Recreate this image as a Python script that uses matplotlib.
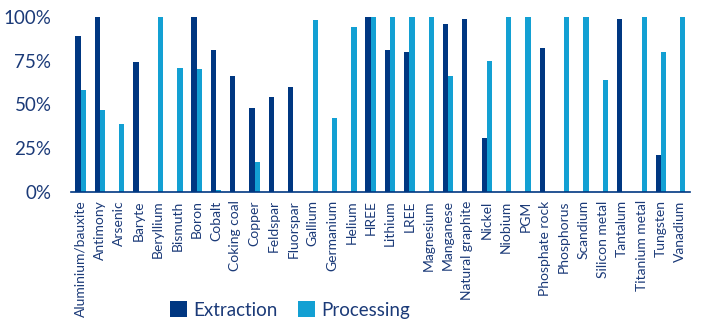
import matplotlib
matplotlib.use("Agg")
import matplotlib.pyplot as plt
import numpy as np

categories = ["Aluminium/bauxite", "Antimony", "Arsenic", "Baryte", "Beryllium",
              "Bismuth", "Boron", "Cobalt", "Coking coal", "Copper", "Feldspar",
              "Fluorspar", "Gallium", "Germanium", "Helium", "HREE", "Lithium",
              "LREE", "Magnesium", "Manganese", "Natural graphite", "Nickel",
              "Niobium", "PGM", "Phosphate rock", "Phosphorus", "Scandium",
              "Silicon metal", "Tantalum", "Titanium metal", "Tungsten", "Vanadium"]

extraction = [89, 100, 0, 74, 0, 0, 100, 81, 66, 48, 54, 60, 0, 0, 0, 100, 81,
              80, 0, 96, 99, 31, 0, 0, 82, 0, 0, 0, 99, 0, 21, 0]
processing = [58, 47, 39, 0, 100, 71, 70, 1, 0, 17, 0, 0, 98, 42, 94, 100, 100,
              100, 100, 66, 0, 75, 100, 100, 0, 100, 100, 64, 0, 100, 80, 100]

yticks = [0, 25, 50, 75, 100]

dark = '#003781'
light = '#13A0D3'
txt = '#1b3a78'

plt.rcParams['font.family'] = ['Lato', 'DejaVu Sans']

fig = plt.figure(figsize=(7.09, 3.26), dpi=100)
ax = fig.add_axes([0.100, 0.411, 0.873, 0.537])

x = np.arange(len(categories))
w = 0.27
ax.bar(x - w / 2, extraction, w, color=dark, label='Extraction', clip_on=False)
ax.bar(x + w / 2, processing, w, color=light, label='Processing', clip_on=False)

ax.set_xlim(-0.5, len(categories) - 0.5)
ax.set_ylim(0, 100)
ax.set_yticks(yticks)
ax.set_yticklabels([f"{v}%" for v in yticks], fontsize=13.5, color=txt)
ax.set_xticks(x)
ax.set_xticklabels(categories, rotation=90, fontsize=10, color=txt)
ax.tick_params(axis='both', length=0)
ax.tick_params(axis='y', pad=14)
ax.tick_params(axis='x', pad=6)

for s in ['top', 'right', 'left']:
    ax.spines[s].set_visible(False)
ax.spines['bottom'].set_color(dark)
ax.spines['bottom'].set_linewidth(1.2)

fig.legend(loc='center', bbox_to_anchor=(290 / 709, 1 - 310 / 326), ncol=2,
           frameon=False, fontsize=13.5, handlelength=0.9, handleheight=0.9,
           handletextpad=0.35, columnspacing=1.1, labelcolor=txt)

fig.savefig('out.png', dpi=100, facecolor='white')
